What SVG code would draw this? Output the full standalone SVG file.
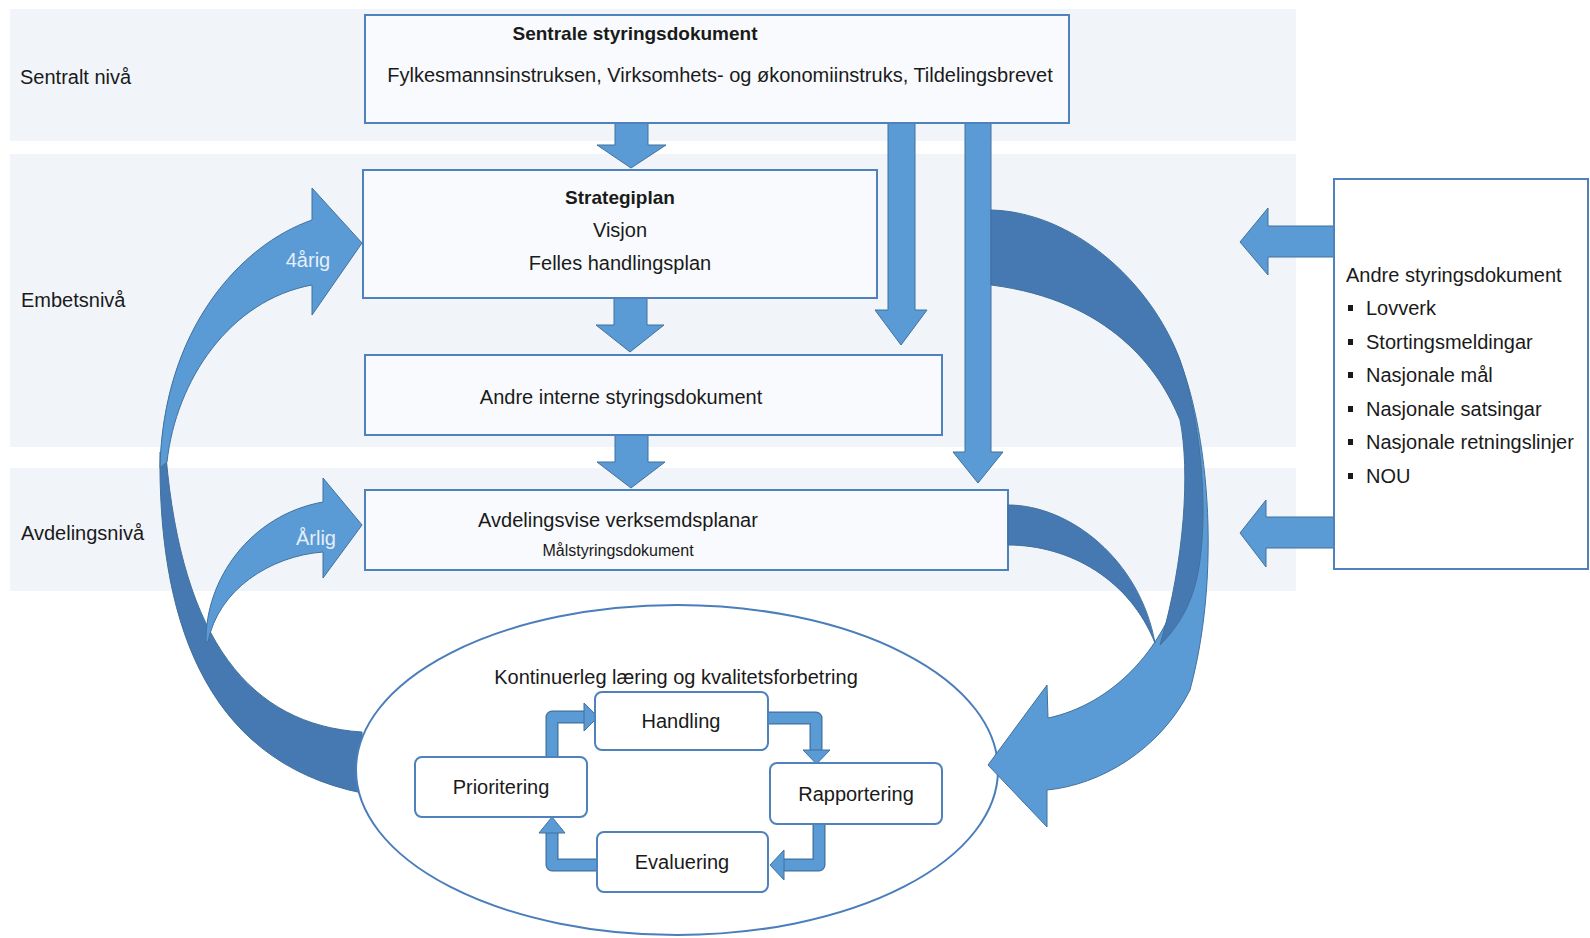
<svg xmlns="http://www.w3.org/2000/svg" width="1590" height="938" viewBox="0 0 1590 938">
<defs>
<style>
text{font-family:"Liberation Sans",Arial,sans-serif;fill:#1a1a1a;font-size:20px}
.b{font-weight:bold;font-size:19px}
.c{text-anchor:middle}
.w{fill:#e6eef8;font-size:20px}
.band{fill:#f1f5fa}
.box{fill:#f8fafd;stroke:#4f81bd;stroke-width:2}
.rbox{fill:#ffffff;stroke:#4f81bd;stroke-width:2}
.ibox{fill:#ffffff;stroke:#4f81bd;stroke-width:2}
.lt{fill:#5b9bd5;stroke:#41719c;stroke-width:1}
.dk{fill:#4679b2;stroke:#41719c;stroke-width:1}
.lo{fill:none;stroke:#41719c;stroke-width:13;stroke-linejoin:round}
.li{fill:none;stroke:#5b9bd5;stroke-width:10.5;stroke-linejoin:round}
</style>
</defs>
<rect width="1590" height="938" fill="#ffffff"/>
<g id="bands">
<rect class="band" x="10" y="9" width="1286" height="132"/>
<rect class="band" x="10" y="154" width="1286" height="293"/>
<rect class="band" x="10" y="468" width="1286" height="123"/>
<text x="20" y="84">Sentralt nivå</text>
<text x="21" y="307">Embetsnivå</text>
<text x="21" y="540">Avdelingsnivå</text>
</g>
<g id="connectors">
<!-- left big curved arrow (4-årig): back then front -->
<path class="dk" d="M160,452 C158,610 200,760 362,793 L362,732 C250,725 182,640 166,456 Z"/>
<path class="lt" d="M312,220 C240,245 163,330 160,468 L167,462 C176,380 230,300 312,285 L312,315 L362,243 L312,188 Z"/>
<!-- Årlig curved arrow -->
<path class="lt" d="M206,642 C205,580 250,515 323,502 L323,478 L362,525 L323,578 L323,552 C270,556 218,590 208,642 Z"/>
<!-- vertical arrows -->
<path class="lt" d="M615,123 L648,123 L648,145 L666,145 L631,168 L597,145 L615,145 Z"/>
<path class="lt" d="M614,298 L647,298 L647,325 L664,325 L630,352 L596,325 L614,325 Z"/>
<path class="lt" d="M615,435 L648,435 L648,462 L665,462 L631,488 L597,462 L615,462 Z"/>
<path class="lt" d="M888,123 L915,123 L915,310 L927,310 L901,345 L875,310 L888,310 Z"/>
<path class="lt" d="M965,123 L991,123 L991,452 L1003,452 L978,483 L953,452 L965,452 Z"/>
<!-- arrows from right box -->
<path class="lt" d="M1334,226 L1334,257 L1268,257 L1268,275 L1240,242 L1268,208 L1268,226 Z"/>
<path class="lt" d="M1334,517 L1334,548 L1266,548 L1266,567 L1240,533 L1266,500 L1266,517 Z"/>
</g>
<g id="node-sentrale">
<rect class="box" x="365" y="15" width="704" height="108"/>
<text class="b c" x="635" y="40">Sentrale styringsdokument</text>
<text class="c" x="720" y="82">Fylkesmannsinstruksen, Virksomhets- og økonomiinstruks, Tildelingsbrevet</text>
</g>
<g id="node-strategiplan">
<rect class="box" x="363" y="170" width="514" height="128"/>
<text class="b c" x="620" y="204">Strategiplan</text>
<text class="c" x="620" y="237">Visjon</text>
<text class="c" x="620" y="270">Felles handlingsplan</text>
</g>
<g id="node-interne">
<rect class="box" x="365" y="355" width="577" height="80"/>
<text class="c" x="621" y="404">Andre interne styringsdokument</text>
</g>
<g id="node-avdeling">
<rect class="box" x="365" y="490" width="643" height="80"/>
<text class="c" x="618" y="527">Avdelingsvise verksemdsplanar</text>
<text class="c" x="618" y="556" style="font-size:16px">Målstyringsdokument</text>
</g>
<g id="node-andre">
<rect class="rbox" x="1334" y="179" width="254" height="390"/>
<text x="1346" y="282">Andre styringsdokument</text>
<rect x="1348" y="305" width="5" height="6" fill="#1a1a1a"/>
<text x="1366" y="315">Lovverk</text>
<rect x="1348" y="339" width="5" height="6" fill="#1a1a1a"/>
<text x="1366" y="349">Stortingsmeldingar</text>
<rect x="1348" y="372" width="5" height="6" fill="#1a1a1a"/>
<text x="1366" y="382">Nasjonale mål</text>
<rect x="1348" y="406" width="5" height="6" fill="#1a1a1a"/>
<text x="1366" y="416">Nasjonale satsingar</text>
<rect x="1348" y="439" width="5" height="6" fill="#1a1a1a"/>
<text x="1366" y="449">Nasjonale retningslinjer</text>
<rect x="1348" y="473" width="5" height="6" fill="#1a1a1a"/>
<text x="1366" y="483">NOU</text>
</g>
<g id="node-kontinuerleg">
<ellipse cx="677" cy="770" rx="321" ry="165" fill="#ffffff" stroke="#4a7ebb" stroke-width="2"/>
<text class="c" x="676" y="684">Kontinuerleg læring og kvalitetsforbetring</text>
</g>
<g id="connectors-right">
<path class="lt" d="M1168,335 C1205,400 1225,560 1190,690 C1160,750 1100,785 1047,790 L1047,827 L988,765 L1047,685 L1048,718 C1110,705 1170,650 1188,560 C1200,470 1190,400 1168,335 Z"/>
<path class="dk" d="M991,210 C1072,212 1150,280 1180,360 C1200,420 1208,500 1200,560 C1195,600 1180,625 1160,645 C1185,560 1190,470 1180,420 C1160,370 1110,300 991,285 Z"/>
<path class="dk" d="M1008,505 C1070,505 1140,560 1155,643 C1130,580 1070,545 1008,545 Z"/>
</g>
<g id="loop-connectors">
<path class="lo" d="M552,757 L552,717 L587,717"/>
<path class="li" d="M552,757 L552,717 L587,717"/>
<path class="lt" d="M584,703 L598,717 L584,731 Z"/>
<path class="lo" d="M768,718 L816,718 L816,751"/>
<path class="li" d="M768,718 L816,718 L816,751"/>
<path class="lt" d="M803,750 L830,750 L816.5,764 Z"/>
<path class="lo" d="M819,824 L819,865 L783,865"/>
<path class="li" d="M819,824 L819,865 L783,865"/>
<path class="lt" d="M784,850 L784,880 L770,865 Z"/>
<path class="lo" d="M597,865 L552,865 L552,833"/>
<path class="li" d="M597,865 L552,865 L552,833"/>
<path class="lt" d="M539,833 L565,833 L552,817 Z"/>
</g>
<g id="node-handling">
<rect class="ibox" x="595" y="692" width="173" height="58" rx="7"/>
<text class="c" x="681" y="728">Handling</text>
</g>
<g id="node-prioritering">
<rect class="ibox" x="415" y="757" width="172" height="60" rx="7"/>
<text class="c" x="501" y="794">Prioritering</text>
</g>
<g id="node-rapportering">
<rect class="ibox" x="770" y="763" width="172" height="61" rx="7"/>
<text class="c" x="856" y="801">Rapportering</text>
</g>
<g id="node-evaluering">
<rect class="ibox" x="597" y="832" width="171" height="60" rx="7"/>
<text class="c" x="682" y="869">Evaluering</text>
</g>
<g id="labels">
<text class="w c" x="308" y="267">4årig</text>
<text class="w c" x="316" y="545">Årlig</text>
</g>
</svg>
